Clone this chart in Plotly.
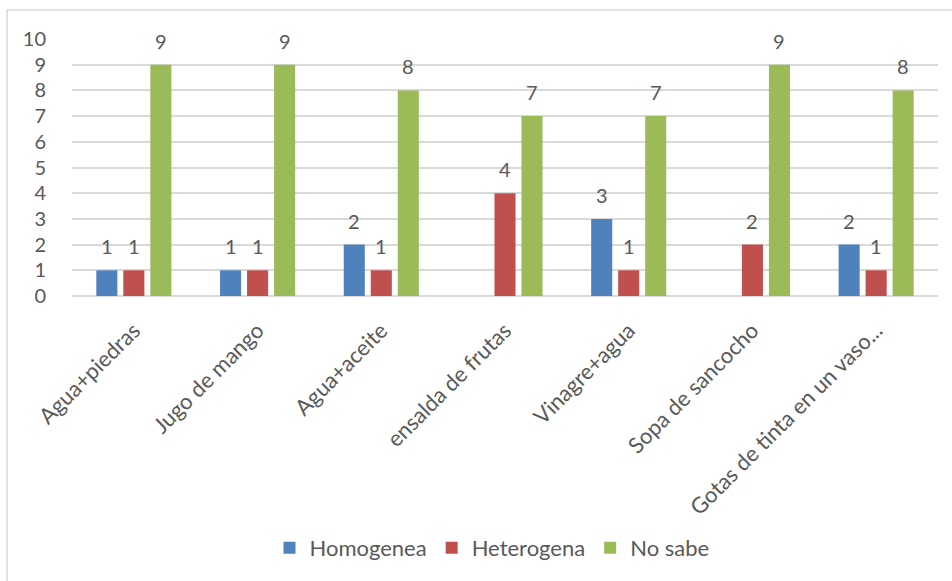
import plotly.graph_objects as go

categories = ["Agua+piedras", "Jugo de mango", "Agua+aceite", "ensalda de frutas",
              "Vinagre+agua", "Sopa de sancocho", "Gotas de tinta en un vaso..."]
homogenea = [1, 1, 2, None, 3, None, 2]
heterogena = [1, 1, 1, 4, 1, 2, 1]
no_sabe = [9, 9, 8, 7, 7, 9, 8]
series_names = ["Homogenea", "Heterogena", "No sabe"]
colors = ["#4F81BD", "#C0504D", "#9BBB59"]
y_ticks = list(range(0, 11))

FONT = "Lato, Calibri, Carlito, sans-serif"
TXT = "#595959"

fig = go.Figure()
all_series = [homogenea, heterogena, no_sabe]
for name, vals, col in zip(series_names, all_series, colors):
    fig.add_trace(go.Bar(x=categories, y=vals, name=name, marker_color=col,
                         marker_line_width=0, hoverinfo="x+y+name"))

# data labels as annotations positioned from data values
W, H = 952, 581
ml, mr, mt, mb = 72, 14, 39, 285
plot_w = W - ml - mr
cat_w = plot_w / len(categories)
bargap = 0.345
slot = cat_w * (1 - bargap) / 3
offsets = [-slot, 0, slot]
for vals, off in zip(all_series, offsets):
    for c, v in zip(categories, vals):
        if v is None:
            continue
        fig.add_annotation(x=c, y=v, text=str(v), showarrow=False, xshift=off,
                           yshift=24, yanchor="middle", xanchor="center",
                           font=dict(family=FONT, size=20, color=TXT))

# chart border (left and top only visible)
fig.add_shape(type="line", xref="paper", yref="paper",
              x0=(7 - ml) / plot_w, x1=(W + 5 - ml) / plot_w,
              y0=(H - mb - 10) / (H - mt - mb), y1=(H - mb - 10) / (H - mt - mb),
              line=dict(color="#D9D9D9", width=1.5), layer="below")
fig.add_shape(type="line", xref="paper", yref="paper",
              x0=(7 - ml) / plot_w, x1=(7 - ml) / plot_w,
              y0=(H - mb - 10) / (H - mt - mb), y1=(-mb - 5) / (H - mt - mb),
              line=dict(color="#D9D9D9", width=1.5), layer="below")

fig.update_layout(
    width=W, height=H,
    margin=dict(l=ml, r=mr, t=mt, b=mb, pad=0),
    paper_bgcolor="white", plot_bgcolor="white",
    barmode="group", bargap=bargap, bargroupgap=0.22,
    font=dict(family=FONT, size=18, color=TXT),
    showlegend=True,
    legend=dict(orientation="h", x=0.485, xanchor="center",
                y=(H - mb - 548) / (H - mt - mb), yanchor="middle",
                font=dict(family=FONT, size=22, color=TXT),
                itemwidth=30, tracegroupgap=0),
    xaxis=dict(tickangle=-45, showgrid=False, showline=False,
               ticks="outside", ticklen=12, tickcolor="rgba(0,0,0,0)",
               tickfont=dict(family=FONT, size=22, color=TXT)),
    yaxis=dict(range=[0, 10], tickvals=y_ticks, showgrid=True,
               gridcolor="#D9D9D9", gridwidth=1.5, zeroline=True,
               zerolinecolor="#D9D9D9", zerolinewidth=1.5, showline=False,
               ticks="outside", ticklen=21, tickcolor="rgba(0,0,0,0)",
               tickfont=dict(family=FONT, size=20, color=TXT)),
)

fig.write_html("out.html")
